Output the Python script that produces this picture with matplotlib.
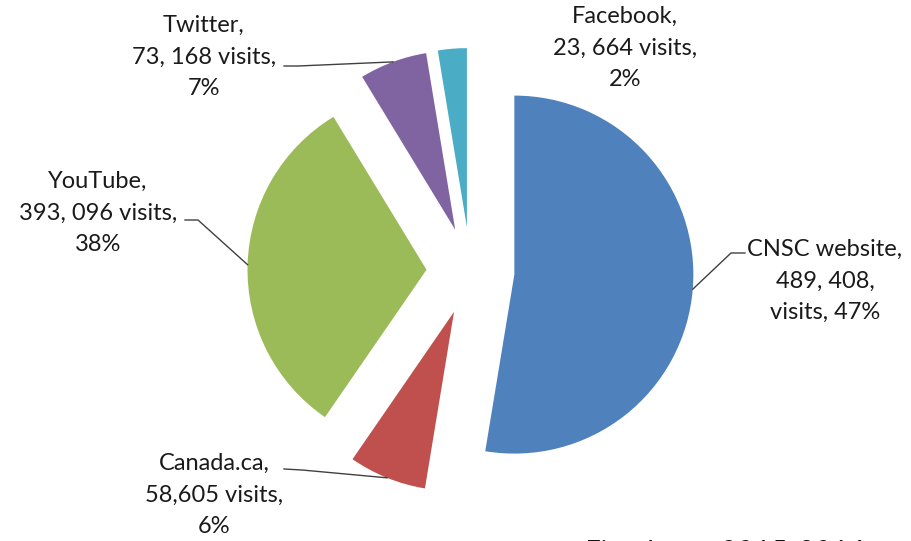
import numpy as np
import matplotlib
matplotlib.use('Agg')
import matplotlib.pyplot as plt

plt.rcParams['font.family'] = ['Lato', 'DejaVu Sans']

# slices clockwise from 12 o'clock
names = ['CNSC website', 'Canada.ca', 'YouTube', 'Twitter', 'Facebook']
# slice sizes as drawn in the picture (%)
shares = [52.6, 7.0, 31.7, 6.1, 2.6]
label_text = ['CNSC website,\n489, 408,\nvisits, 47%',
              'Canada.ca,\n58,605 visits,\n6%',
              'YouTube,\n393, 096 visits,\n38%',
              'Twitter,\n73, 168 visits,\n7%',
              'Facebook,\n23, 664 visits,\n2%']
colors = ['#4F81BD', '#C0504D', '#9BBB59', '#8064A2', '#4BACC6']

W, H = 912, 541
fig = plt.figure(figsize=(W / 100, H / 100), dpi=100)
ax = fig.add_axes([0, 0, 1, 1])

R = 179
wedges, _ = ax.pie(shares, colors=colors, startangle=90, counterclock=False,
                   explode=[44] * 5, radius=R, center=(470.5, 270),
                   wedgeprops=dict(linewidth=0))

ax.set_xlim(0, W)
ax.set_ylim(0, H)
ax.set_aspect('equal')
ax.axis('off')

# label centres and leader start points (pixel layout)
label_pos = [(825, 260), (214, 46), (98, 328), (204, 484), (625, 493)]
leader_start = [[(745, 288), (731, 288)],
                [(284, 72), (302, 71)],
                [(185, 321), (198, 321)],
                [(284, 475), (298, 475)],
                None]

tc = '#1a1a1a'
for w, txt, pos, ls in zip(wedges, label_text, label_pos, leader_start):
    ax.text(pos[0], pos[1], txt, ha='center', va='center', multialignment='center',
            fontsize=17, color=tc, linespacing=1.6)
    if ls is None:
        continue
    ang = np.deg2rad(0.5 * (w.theta1 + w.theta2))
    cx, cy = w.center
    end = (cx + w.r * np.cos(ang), cy + w.r * np.sin(ang))
    pts = ls + [end]
    ax.plot([p[0] for p in pts], [p[1] for p in pts], color='#404040', lw=1.0)

# caption sits partly below the bottom edge, as in the source image
ax.text(584, 1, 'Fiscal year 2015-2016', ha='left', va='top', fontsize=21,
        style='italic', color='#111111')

fig.savefig('out.png', dpi=100)
